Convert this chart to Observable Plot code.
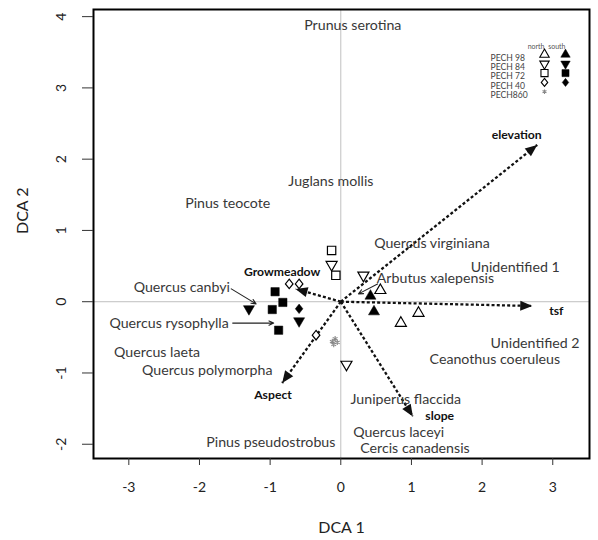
<!DOCTYPE html>
<html><head><meta charset="utf-8">
<script src="https://cdn.jsdelivr.net/npm/d3@7"></script>
<script src="https://cdn.jsdelivr.net/npm/@observablehq/plot@0.6"></script>
<style>body{margin:0;background:#fff} #chart svg{display:block}</style>
</head><body><div id="chart"></div>
<script>
// ---- plot sites (DCA scores) ----
const ptSite   = ["PECH 98","PECH 98","PECH 98","PECH 98","PECH 98",
                  "PECH 84","PECH 84","PECH 84","PECH 84","PECH 84",
                  "PECH 72","PECH 72","PECH 72","PECH 72","PECH 72","PECH 72",
                  "PECH 40","PECH 40","PECH 40","PECH 40",
                  "PECH860","PECH860","PECH860","PECH860"];
const ptAspect = ["north","north","north","south","south",
                  "north","north","north","south","south",
                  "north","north","south","south","south","south",
                  "north","north","north","south",
                  "north","north","north","north"];
const ptX = [0.56, 1.10, 0.85, 0.42, 0.47,
             -0.13, 0.32, 0.08, -1.30, -0.59,
             -0.13, -0.07, -0.93, -0.82, -0.97, -0.88,
             -0.73, -0.59, -0.35, -0.59,
             -0.12, -0.08, -0.05, -0.10];
const ptY = [0.16, -0.16, -0.30, 0.08, -0.14,
             0.52, 0.37, -0.88, -0.10, -0.27,
             0.72, 0.37, 0.14, -0.01, -0.11, -0.40,
             0.25, 0.25, -0.47, -0.10,
             -0.56, -0.52, -0.57, -0.60];

// ---- species scores ----
const species = ["Prunus serotina","Juglans mollis","Pinus teocote","Quercus virginiana",
  "Unidentified 1","Arbutus xalepensis","Quercus canbyi","Quercus rysophylla","Quercus laeta",
  "Quercus polymorpha","Unidentified 2","Ceanothus coeruleus","Juniperus flaccida",
  "Quercus laceyi","Cercis canadensis","Pinus pseudostrobus"];
const spX = [0.17, -0.14, -1.60, 1.29, 2.47, 1.34, -2.25, -2.43, -2.60, -1.89, 2.75, 2.18, 0.92, 0.82, 1.05, -0.99];
const spY = [3.87, 1.69, 1.38, 0.82, 0.48, 0.32, 0.20, -0.30, -0.71, -0.96, -0.58, -0.81, -1.37, -1.83, -2.06, -1.98];

// ---- pointer arrows from labels to sites ----
const ptrX1 = [-1.55, -1.53, 0.52];
const ptrY1 = [0.18, -0.30, 0.25];
const ptrX2 = [-1.20, -0.95, 0.25];
const ptrY2 = [-0.03, -0.30, 0.11];

// ---- environmental vectors ----
const envNames = ["elevation","tsf","slope","Aspect","Growmeadow"];
const envX = [2.78, 2.71, 1.02, -0.83, -0.64];
const envY = [2.20, -0.06, -1.61, -1.14, 0.18];
const envLabX = [2.49, 3.05, 1.40, -0.96, -0.83];
const envLabY = [2.34, -0.13, -1.60, -1.31, 0.42];

// ---- axes ----
const xTicks = [-3, -2, -1, 0, 1, 2, 3];
const yTicks = [-2, -1, 0, 1, 2, 3, 4];
const legendSites = ["PECH 98","PECH 84","PECH 72","PECH 40","PECH860"];

// build tables
const points = ptSite.map((s, i) => ({site: s, aspect: ptAspect[i], x: ptX[i], y: ptY[i]}));
const spp = species.map((n, i) => ({name: n, x: spX[i], y: spY[i]}));
const ptrs = ptrX1.map((v, i) => ({x1: v, y1: ptrY1[i], x2: ptrX2[i], y2: ptrY2[i]}));
const env = envNames.map((n, i) => ({name: n, x: envX[i], y: envY[i], lx: envLabX[i], ly: envLabY[i]}));

const NS = "http://www.w3.org/2000/svg";
function filledHead(color, context) {
  const doc = (context && context.document) || document;
  const m = doc.createElementNS(NS, "marker");
  m.setAttribute("viewBox", "-12 -5 12 10");
  m.setAttribute("markerUnits", "userSpaceOnUse");
  m.setAttribute("markerWidth", 12);
  m.setAttribute("markerHeight", 10);
  m.setAttribute("orient", "auto");
  m.setAttribute("overflow", "visible");
  const p = doc.createElementNS(NS, "path");
  p.setAttribute("d", "M0,0L-12,-5L-12,5Z");
  p.setAttribute("fill", color);
  p.setAttribute("stroke", "none");
  p.setAttribute("stroke-dasharray", "none");
  m.appendChild(p);
  return m;
}

const diamond = {draw(c, size) {
  const r = Math.sqrt(size / Math.PI), h = r * 1.25, w = r;
  c.moveTo(0, -h); c.lineTo(w, 0); c.lineTo(0, h); c.lineTo(-w, 0); c.closePath();
}};

const symSpec = {
  "PECH 98": {symbol: "triangle", r: 4.1, rotate: 0},
  "PECH 84": {symbol: "triangle", r: 4.1, rotate: 180},
  "PECH 72": {symbol: "square", r: 4.7, rotate: 0},
  "PECH 40": {symbol: diamond, r: 3.8, rotate: 0},
  "PECH860": {symbol: "asterisk", r: 2.6, rotate: 0}
};

const marks = [
  Plot.ruleX([0], {stroke: "#b0b0b0", strokeWidth: 0.8}),
  Plot.ruleY([0], {stroke: "#b0b0b0", strokeWidth: 0.8}),
  Plot.link(env, {x1: () => 0, y1: () => 0, x2: "x", y2: "y", stroke: "#111",
    strokeWidth: 2.3, strokeDasharray: "3,2.2", markerEnd: filledHead}),
  Plot.arrow(ptrs, {x1: "x1", y1: "y1", x2: "x2", y2: "y2", stroke: "#222",
    strokeWidth: 1.1, headLength: 7, headAngle: 50}),
];

for (const site of legendSites) {
  const s = symSpec[site];
  const isStar = site === "PECH860";
  for (const asp of ["north", "south"]) {
    const data = points.filter(d => d.site === site && d.aspect === asp);
    if (!data.length) continue;
    const open = asp === "north" && !isStar;
    marks.push(Plot.dot(data, {x: "x", y: "y", symbol: s.symbol, r: s.r, rotate: s.rotate,
      fill: isStar ? "none" : (open ? "white" : "black"),
      stroke: isStar ? "#888" : "black", strokeWidth: isStar ? 1.1 : (open ? 1.2 : 0.5)}));
  }
}

marks.push(
  Plot.text(spp, {x: "x", y: "y", text: "name", fill: "#383838", fontSize: 14.2}),
  Plot.text(env, {x: "lx", y: "ly", text: "name", fill: "#111", fontSize: 12.2, fontWeight: "bold"}),
  Plot.frame({stroke: "black", strokeWidth: 2}),
  Plot.axisX({ticks: xTicks, tickSize: 7, tickPadding: 17, fontSize: 14, label: null,
    tickFormat: d => String(d), stroke: "#333"}),
  Plot.axisY({ticks: yTicks, tickSize: 11, tickPadding: 17, tickRotate: -90, fontSize: 14, label: null,
    tickFormat: d => String(d), stroke: "#333"}),
  Plot.text(["DCA 1"], {frameAnchor: "bottom", dy: 74, text: d => d, fontSize: 16, fill: "#222"}),
  Plot.text(["DCA 2"], {frameAnchor: "left", dx: -71, rotate: -90, text: d => d, fontSize: 16, fill: "#222"}),
  // legend header
  Plot.text(["north"], {frameAnchor: "top-right", dx: -45, dy: 35, text: d => d, fontSize: 7, fill: "#555"}),
  Plot.text(["south"], {frameAnchor: "top-right", dx: -24, dy: 35, text: d => d, fontSize: 7, fill: "#555"})
);

legendSites.forEach((site, i) => {
  const s = symSpec[site];
  const dy = 45 + i * 9.3;
  const isStar = site === "PECH860";
  const sc = isStar ? 0.8 : 0.85;
  marks.push(Plot.text([site], {frameAnchor: "top-right", dx: -99, dy, text: d => d,
    textAnchor: "start", fontSize: 8.6, fill: "#444"}));
  marks.push(Plot.dot([site], {frameAnchor: "top-right", dx: -45, dy, symbol: s.symbol, r: s.r * sc,
    rotate: s.rotate, fill: isStar ? "none" : "white", stroke: isStar ? "#888" : "black",
    strokeWidth: 1.1}));
  if (!isStar) marks.push(Plot.dot([site], {frameAnchor: "top-right", dx: -24, dy, symbol: s.symbol,
    r: s.r * sc, rotate: s.rotate, fill: "black", stroke: "black", strokeWidth: 0.5}));
});

const chart = Plot.plot({
  width: 598, height: 540,
  marginLeft: 93, marginRight: 9, marginTop: 9, marginBottom: 82,
  x: {domain: [-3.5, 3.52]},
  y: {domain: [-2.2, 4.1]},
  style: {fontFamily: "Lato, 'Open Sans', sans-serif", background: "white", color: "#222"},
  marks
});
document.getElementById("chart").appendChild(chart);
</script></body></html>
